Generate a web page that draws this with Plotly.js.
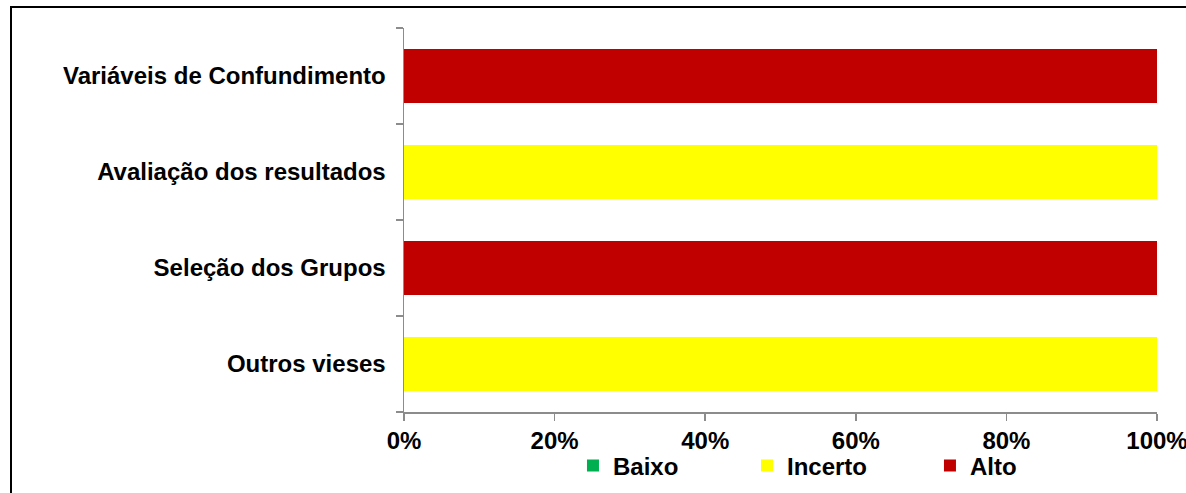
<!DOCTYPE html>
<html>
<head>
<meta charset="utf-8">
<script src="https://cdn.plot.ly/plotly-3.0.1.min.js"></script>
<style>
  html, body { margin: 0; padding: 0; background: #fff; }
  #wrap { position: relative; width: 1186px; height: 493px; overflow: hidden; }
  #chart { position: absolute; left: 0; top: 0; width: 1186px; height: 493px; }
  #frame { position: absolute; left: 10px; top: 6px; width: 1300px; height: 600px;
           border-left: 2px solid #000; border-top: 2px solid #000; pointer-events: none; }
</style>
</head>
<body>
<div id="wrap">
  <div id="chart"></div>
  <div id="frame"></div>
</div>
<script>
// Categories listed bottom to top
const categories = ['Outros vieses', 'Seleção dos Grupos', 'Avaliação dos resultados', 'Variáveis de Confundimento'];
const baixo   = [0, 0, 0, 0];
const incerto = [100, 0, 100, 0];
const alto    = [0, 100, 0, 100];
const xTicks  = [0, 20, 40, 60, 80, 100];
const xTickLabels = ['0%', '20%', '40%', '60%', '80%', '100%'];

const FONT = '"Liberation Sans", Arial, sans-serif';
const bold = (size) => ({ family: FONT, size: size, color: '#000', weight: 700 });

const traces = [
  { name: 'Baixo', x: baixo, y: categories, color: '#00B050', legend: 'legend' },
  { name: 'Incerto', x: incerto, y: categories, color: '#FFFF00', legend: 'legend2' },
  { name: 'Alto', x: alto, y: categories, color: '#C00000', legend: 'legend3' }
].map(t => ({
  type: 'bar', orientation: 'h', name: t.name, x: t.x, y: t.y,
  marker: { color: t.color, line: { width: 0 } },
  legend: t.legend, hoverinfo: 'skip'
}));

const legendBase = (x) => ({
  x: x, y: -0.1406, xref: 'paper', yref: 'paper', xanchor: 'left', yanchor: 'middle',
  orientation: 'h', font: bold(24), bgcolor: 'rgba(0,0,0,0)', borderwidth: 0
});

const layout = {
  width: 1186, height: 493,
  margin: { l: 404, r: 29, t: 28, b: 81, pad: 0, autoexpand: false },
  paper_bgcolor: '#fff', plot_bgcolor: '#fff',
  barmode: 'stack', bargap: 0.44,
  showlegend: true,
  legend: legendBase(0.2244),
  legend2: legendBase(0.4555),
  legend3: legendBase(0.6985),
  xaxis: {
    range: [0, 100], tickmode: 'array', tickvals: xTicks, ticktext: xTickLabels,
    showgrid: false, zeroline: false, showline: true, linecolor: '#8c8c8c', linewidth: 1.5,
    ticks: 'outside', ticklen: 7, tickcolor: '#8c8c8c', tickwidth: 1.5,
    tickfont: bold(24), ticklabeloverflow: 'allow', fixedrange: true, automargin: false
  },
  yaxis: {
    type: 'category', range: [-0.5, 3.5], tickson: 'boundaries',
    showgrid: false, zeroline: false, showline: true, linecolor: '#8c8c8c', linewidth: 1.5,
    ticks: 'outside', ticklen: 7, tickcolor: '#8c8c8c', tickwidth: 1.5,
    tickfont: bold(24), ticklabelstandoff: 12, fixedrange: true, automargin: false
  }
};

Plotly.newPlot('chart', traces, layout, { displayModeBar: false, staticPlot: true });
</script>
</body>
</html>
